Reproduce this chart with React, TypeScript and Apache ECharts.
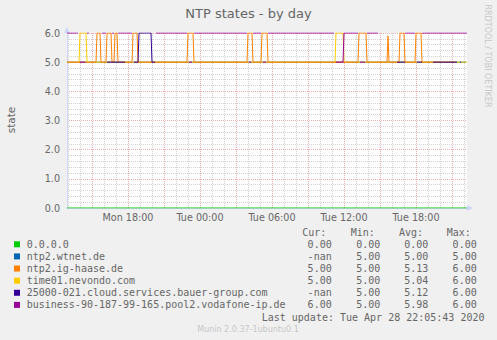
import React, { useEffect, useRef } from "react";
import * as echarts from "echarts";

// ---- texts ----
const TITLE = "NTP states - by day";
const Y_NAME = "state";
const VENDOR = "RRDTOOL / TOBI OETIKER";
const LAST_UPDATE = "Last update: Tue Apr 28 22:05:43 2020";
const FOOTER = "Munin 2.0.37-1ubuntu0.1";
const STAT_HEADERS = ["Cur:", "Min:", "Avg:", "Max:"];

// ---- axes ----
const DAYS = ["Mon", "Tue"];
const X_START = "Mon 12:55";
const X_END = "Tue 22:15";
const X_TICK_LABELS = ["Mon 18:00", "Tue 00:00", "Tue 06:00", "Tue 12:00", "Tue 18:00"];
const Y_MIN = 0;
const Y_MAX = 6;
const Y_STEP = 1;

// ---- legend ----
const NAMES = [
  "0.0.0.0",
  "ntp2.wtnet.de",
  "ntp2.ig-haase.de",
  "time01.nevondo.com",
  "25000-021.cloud.services.bauer-group.com",
  "business-90-187-99-165.pool2.vodafone-ip.de",
];
const COLORS = ["#00CC00", "#0066B3", "#FF8000", "#FFCC00", "#330099", "#990099"];
const CUR = ["0.00", "-nan", "5.00", "5.00", "-nan", "6.00"];
const MIN = ["0.00", "5.00", "5.00", "5.00", "5.00", "5.00"];
const AVG = ["0.00", "5.00", "5.13", "5.04", "5.12", "5.98"];
const MAX = ["0.00", "5.00", "6.00", "6.00", "6.00", "6.00"];

// ---- series: [time, state] (null = no data) ----
type Pt = [string, number | null];
const S_ZERO: Pt[] = [["Mon 12:55", 0], ["Tue 22:15", 0]];
const S_WTNET: Pt[] = [["Mon 12:55", 5], ["Tue 22:10", 5]];
const S_IGHAASE: Pt[] = [
  ["Mon 12:55", 5], ["Mon 15:20", 5], ["Mon 15:25", 6], ["Mon 15:40", 6], ["Mon 15:45", 5],
  ["Mon 16:10", 5], ["Mon 16:15", 6], ["Mon 16:35", 6], ["Mon 16:40", 5], ["Mon 16:50", 5],
  ["Mon 16:55", 6], ["Mon 17:05", 6], ["Mon 17:10", 5], ["Mon 18:20", 5], ["Mon 18:25", 6],
  ["Mon 18:45", 6], ["Mon 18:50", 5], ["Mon 22:55", 5], ["Mon 23:00", 6], ["Mon 23:25", 6],
  ["Mon 23:30", 5], ["Tue 03:55", 5], ["Tue 04:00", 6], ["Tue 04:20", 6], ["Tue 04:25", 5],
  ["Tue 05:05", 5], ["Tue 05:10", 6], ["Tue 05:35", 6], ["Tue 05:40", 5], ["Tue 13:10", 5],
  ["Tue 13:15", 6], ["Tue 13:50", 6], ["Tue 13:55", 5], ["Tue 15:35", 5], ["Tue 15:40", 5.9],
  ["Tue 15:45", 5], ["Tue 16:35", 5], ["Tue 16:40", 6], ["Tue 17:00", 6], ["Tue 17:05", 5],
  ["Tue 17:55", 5], ["Tue 18:00", 6], ["Tue 18:25", 6], ["Tue 18:30", 5], ["Tue 21:20", 5],
  ["Tue 21:25", null],
];
const S_NEVONDO: Pt[] = [
  ["Mon 12:55", 5], ["Mon 13:55", 5], ["Mon 14:00", 6], ["Mon 14:30", 6], ["Mon 14:35", 5],
  ["Tue 11:15", 5], ["Tue 11:20", 6], ["Tue 11:55", 6], ["Tue 12:00", 5], ["Tue 22:15", 5],
];
const S_BAUER: Pt[] = [
  ["Mon 16:15", 5], ["Mon 17:45", 5], ["Mon 17:50", null], ["Mon 18:30", 5], ["Mon 18:50", 5],
  ["Mon 18:55", 6], ["Mon 19:55", 6], ["Mon 20:00", 5], ["Mon 20:15", 5], ["Mon 20:20", null],
  ["Tue 16:25", 5], ["Tue 17:05", 5], ["Tue 17:10", null], ["Tue 18:05", 5], ["Tue 18:30", 5],
  ["Tue 18:35", null], ["Tue 19:25", 5], ["Tue 21:25", 5], ["Tue 21:30", null],
  ["Tue 21:40", 5], ["Tue 21:45", 5],
];
const S_VODAFONE: Pt[] = [
  ["Mon 12:55", 6], ["Mon 13:50", 6], ["Mon 13:55", null], ["Mon 14:00", 5], ["Mon 14:25", 5],
  ["Mon 14:30", null], ["Mon 14:35", 6], ["Mon 14:45", 6], ["Mon 14:50", null],
  ["Mon 15:50", 6], ["Mon 16:10", 6], ["Mon 16:15", null], ["Mon 16:40", 6], ["Mon 16:50", 6],
  ["Mon 16:55", null], ["Mon 17:10", 6], ["Mon 18:20", 6], ["Mon 18:25", null],
  ["Mon 20:20", 6], ["Mon 22:55", 6], ["Mon 23:00", null], ["Mon 23:05", 5], ["Mon 23:20", 5],
  ["Mon 23:25", null], ["Mon 23:30", 6], ["Tue 03:55", 6], ["Tue 04:00", null],
  ["Tue 04:05", 5], ["Tue 04:15", 5], ["Tue 04:20", null], ["Tue 04:25", 6], ["Tue 05:05", 6],
  ["Tue 05:10", null], ["Tue 05:15", 5], ["Tue 05:30", 5], ["Tue 05:35", null],
  ["Tue 05:40", 6], ["Tue 11:10", 6], ["Tue 11:15", null], ["Tue 11:20", 5], ["Tue 11:55", 5],
  ["Tue 12:00", 6], ["Tue 13:10", 6], ["Tue 13:15", null], ["Tue 13:20", 5], ["Tue 13:45", 5],
  ["Tue 13:50", null], ["Tue 13:55", 6], ["Tue 14:50", 6], ["Tue 14:55", null],
  ["Tue 17:05", 6], ["Tue 17:55", 6], ["Tue 18:00", null], ["Tue 18:30", 6], ["Tue 22:15", 6],
];
const SERIES = [S_ZERO, S_WTNET, S_IGHAASE, S_NEVONDO, S_BAUER, S_VODAFONE];
// drawing order, bottom to top
const DRAW_ORDER = [1, 3, 2, 0, 4, 5];

function toHours(s: string): number {
  const [d, hm] = s.split(" ");
  const [h, m] = hm.split(":").map(Number);
  return DAYS.indexOf(d) * 24 + h + m / 60;
}

const FONT_COLOR = "#666666";
const AXIS_COLOR = "#CFD6F8";
const MINOR_GRID = "rgba(143,143,143,0.4)";
const MAJOR_GRID = "rgba(222,79,79,0.45)";
const SANS = "'DejaVu Sans', sans-serif";
const MONO = "'DejaVu Sans Mono', monospace";

export default function App() {
  const ref = useRef<HTMLDivElement>(null);

  useEffect(() => {
    document.body.style.margin = "0";
    document.body.style.background = "#F0F0F0";
    if (!ref.current) return;
    const chart = echarts.init(ref.current, undefined, { renderer: "svg" });

    const xMin = toHours(X_START);
    const xMax = toHours(X_END);
    const hours: number[] = [];
    for (let h = Math.ceil(xMin); h <= Math.floor(xMax); h++) hours.push(h);
    const minorHours = hours.filter((h) => h % 3 !== 0);
    const majorHours = hours.filter((h) => h % 3 === 0);
    const labelVals = X_TICK_LABELS.map(toHours);

    const series: any[] = DRAW_ORDER.map((i) => ({
      type: "line",
      name: NAMES[i],
      data: SERIES[i].map(([t, v]) => [toHours(t), v]),
      showSymbol: false,
      symbol: "none",
      connectNulls: false,
      silent: true,
      lineStyle: { width: 1, color: COLORS[i] },
      itemStyle: { color: COLORS[i] },
      emphasis: { disabled: true },
    }));

    const graphic: any[] = [];
    graphic.push({
      type: "text", x: 248.5, y: 13.5,
      style: { text: TITLE, font: `13px ${SANS}`, fill: FONT_COLOR, align: "center", verticalAlign: "middle" },
    });
    graphic.push({
      type: "text", x: 11, y: 120, rotation: Math.PI / 2,
      style: { text: Y_NAME, font: `10.5px ${SANS}`, fill: FONT_COLOR, align: "center", verticalAlign: "middle" },
    });
    graphic.push({
      type: "text", x: 487, y: 56, rotation: -Math.PI / 2,
      style: { text: VENDOR, font: `8px ${SANS}`, fill: "#C8C8C8", align: "center", verticalAlign: "middle" },
    });
    const headerX = [302.3, 350.7, 399, 446.7];
    STAT_HEADERS.forEach((h, k) => {
      graphic.push({
        type: "text", x: headerX[k], y: 232.7,
        style: { text: h, font: `10px ${MONO}`, fill: FONT_COLOR, align: "left", verticalAlign: "middle" },
      });
    });
    const colRight = [331.7, 380.3, 428.3, 476.7];
    const rowY0 = 244.3;
    const rowStep = 12.12;
    NAMES.forEach((name, i) => {
      const y = rowY0 + i * rowStep;
      graphic.push({
        type: "rect", shape: { x: 14, y: y - 3, width: 6, height: 6 },
        style: { fill: COLORS[i] },
      });
      graphic.push({
        type: "text", x: 26.7, y,
        style: { text: name, font: `10px ${MONO}`, fill: FONT_COLOR, align: "left", verticalAlign: "middle" },
      });
      [CUR, MIN, AVG, MAX].forEach((col, k) => {
        graphic.push({
          type: "text", x: colRight[k], y,
          style: { text: col[i], font: `10px ${MONO}`, fill: FONT_COLOR, align: "right", verticalAlign: "middle" },
        });
      });
    });
    graphic.push({
      type: "text", x: 261.7, y: rowY0 + NAMES.length * rowStep,
      style: { text: LAST_UPDATE, font: `10px ${MONO}`, fill: FONT_COLOR, align: "left", verticalAlign: "middle" },
    });
    graphic.push({
      type: "text", x: 248, y: 329.5,
      style: { text: FOOTER, font: `8px ${SANS}`, fill: "#C8C8C8", align: "center", verticalAlign: "middle" },
    });

    const option: any = {
      animation: false,
      backgroundColor: "#F0F0F0",
      grid: {
        left: 67, top: 33, width: 400, height: 175,
        show: true, backgroundColor: "#FFFFFF", borderWidth: 0,
        containLabel: false, outerBoundsMode: "none",
      },
      xAxis: [
        {
          type: "value", min: xMin, max: xMax,
          axisLine: {
            show: true, onZero: false,
            lineStyle: { color: AXIS_COLOR, width: 1 },
            symbol: ["none", "triangle"], symbolSize: [6, 6], symbolOffset: [0, 3],
          },
          axisTick: { show: false, customValues: minorHours },
          axisLabel: {
            show: true, customValues: labelVals, margin: 4,
            fontSize: 9.6, fontFamily: SANS, color: FONT_COLOR,
            formatter: (v: number) => {
              const idx = labelVals.findIndex((x) => Math.abs(x - v) < 1e-6);
              return idx >= 0 ? X_TICK_LABELS[idx] : "";
            },
          },
          splitLine: { show: true, lineStyle: { color: MINOR_GRID, type: [1, 1], width: 1 } },
        },
        {
          type: "value", min: xMin, max: xMax, position: "bottom",
          axisLine: { show: false },
          axisTick: { show: false, customValues: majorHours },
          axisLabel: { show: false },
          splitLine: { show: true, lineStyle: { color: MAJOR_GRID, type: [1, 1], width: 1 } },
        },
      ],
      yAxis: {
        type: "value", min: Y_MIN, max: Y_MAX, interval: Y_STEP,
        axisLine: {
          show: true, onZero: false,
          lineStyle: { color: AXIS_COLOR, width: 1 },
          symbol: ["none", "triangle"], symbolSize: [6, 6], symbolOffset: [0, 3],
        },
        axisTick: { show: false },
        axisLabel: {
          margin: 7, fontSize: 9.6, fontFamily: SANS, color: FONT_COLOR,
          formatter: (v: number) => v.toFixed(1),
        },
        splitLine: { show: true, lineStyle: { color: MAJOR_GRID, type: [1, 1], width: 1 } },
        minorTick: { show: false, splitNumber: 5 },
        minorSplitLine: { show: true, lineStyle: { color: MINOR_GRID, type: [1, 1], width: 1 } },
      },
      tooltip: { show: false },
      series,
      graphic,
    };

    chart.setOption(option);
    return () => chart.dispose();
  }, []);

  return <div ref={ref} style={{ width: 497, height: 340 }} />;
}
